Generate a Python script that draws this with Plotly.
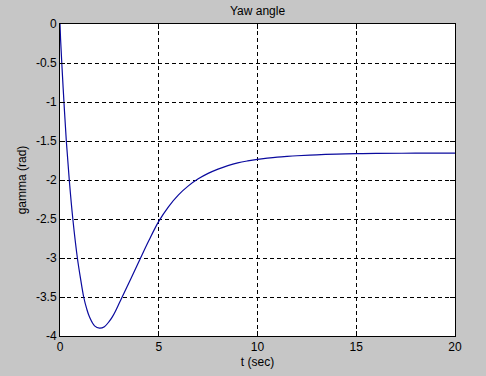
import plotly.graph_objects as go

t_sec = [0, 0.03, 0.09, 0.2, 0.32, 0.47, 0.65, 0.88, 1.05, 1.2, 1.35, 1.5, 1.75, 2.0,
         2.25, 2.5, 2.65, 2.8, 2.95, 3.1, 3.6, 4.05, 4.5, 5.0, 5.5, 6.0, 6.5, 7.0, 7.5, 8.0,
         8.5, 9.0, 9.5, 10.0, 10.5, 11.0, 11.5, 12.0, 13.0, 14.0, 15.0, 16.0, 18.0, 20.0]
gamma_rad = [0, -0.2, -0.5, -1.0, -1.5, -2.0, -2.5, -3.0, -3.28, -3.5, -3.65, -3.76, -3.87,
             -3.9, -3.88, -3.81, -3.755, -3.685, -3.605, -3.525, -3.26, -3.015, -2.775, -2.53, -2.34,
             -2.19, -2.075, -1.985, -1.915, -1.86, -1.815, -1.78, -1.755, -1.735, -1.72,
             -1.707, -1.697, -1.689, -1.677, -1.668, -1.662, -1.659, -1.656, -1.655]

x_ticks = [0, 5, 10, 15, 20]
x_tick_text = ["0", "5", "10", "15", "20"]
y_ticks = [0, -0.5, -1, -1.5, -2, -2.5, -3, -3.5, -4]
y_tick_text = ["0", "-0.5", "-1", "-1.5", "-2", "-2.5", "-3", "-3.5", "-4"]

font = "Liberation Sans, Arial, sans-serif"
bg = "#c6c6c6"

fig = go.Figure()
fig.add_trace(go.Scatter(
    x=t_sec, y=gamma_rad, mode="lines",
    line=dict(color="#0a0a9e", width=1.2, shape="spline", smoothing=1.0),
    showlegend=False, hoverinfo="skip",
))

axis_common = dict(
    showline=True, linecolor="black", linewidth=1, mirror="ticks",
    ticks="inside", ticklen=5, tickcolor="black",
    showgrid=True, gridcolor="black", gridwidth=1, griddash="4px,3px",
    zeroline=False, automargin=False,
    tickfont=dict(family=font, size=12, color="black"),
)

fig.update_layout(
    width=486, height=376,
    margin=dict(l=60, r=31, t=24, b=40),
    paper_bgcolor=bg, plot_bgcolor="white",
    title=dict(text="Yaw angle", x=0.5, xanchor="center", y=0.97, yanchor="middle",
               xref="paper", font=dict(family=font, size=12, color="black")),
    xaxis=dict(range=[0, 20], tickvals=x_ticks, ticktext=x_tick_text,
               title=dict(text="t (sec)", standoff=4, font=dict(family=font, size=12, color="black")),
               **axis_common),
    yaxis=dict(range=[-4, 0], tickvals=y_ticks, ticktext=y_tick_text,
               title=dict(text="gamma (rad)", standoff=6, font=dict(family=font, size=12, color="black")),
               **axis_common),
)

fig.write_html(
    "out.html",
    config={"displayModeBar": False},
    post_script="document.body.style.margin='0';document.body.style.background='%s';" % bg,
)
